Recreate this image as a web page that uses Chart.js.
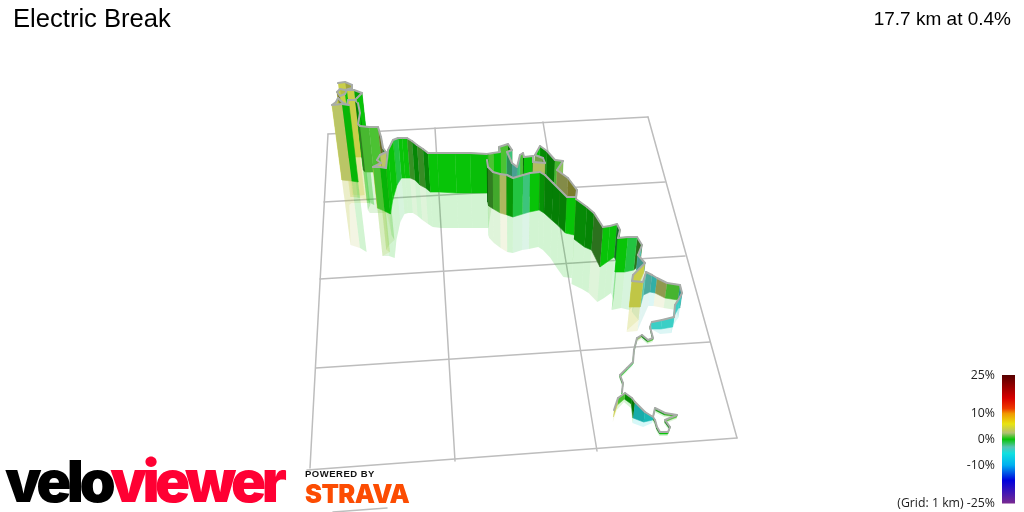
<!DOCTYPE html>
<html>
<head>
<meta charset="utf-8">
<title>Electric Break</title>
<script src="https://cdn.jsdelivr.net/npm/chart.js@4/dist/chart.umd.js"></script>
<style>
body{margin:0;background:#fff;width:1024px;height:512px;overflow:hidden;position:relative}
div{position:absolute;white-space:nowrap}
#routeChart{position:absolute;left:0;top:0}
#legendChart{position:absolute;left:824px;top:360px}
#name{left:13px;top:4px;font:25.6px "Liberation Sans",sans-serif;color:#000}
#stat{right:13px;top:8px;font:19px "Liberation Sans",sans-serif;color:#000}
#velo{left:5px;top:446px;font:900 58px Inter,sans-serif;letter-spacing:-4.5px;color:#000}
#velo span{color:#ff0033}
#powered{left:305px;top:468px;font:bold 9.5px "Liberation Sans",sans-serif;letter-spacing:.5px;color:#111}
#strava{left:305px;top:478px;font:900 25.5px Inter,sans-serif;letter-spacing:-.6px;color:#fc4c02}
</style>
</head>
<body>
<canvas id="routeChart" width="1024" height="512"></canvas>
<canvas id="legendChart" width="200" height="158"></canvas>
<div id="name">Electric Break</div>
<div id="stat">17.7 km at 0.4%</div>
<div id="velo">velo<span>viewer</span></div>
<div id="powered">POWERED BY</div>
<div id="strava">STRAVA</div>
<script>
// ==========================
// Grid on the floor
// ==========================

const gridStartX=[328,324,320,316,307,328,435,543,648,333];
const gridStartY=[134,202,279,368,470,134,128,122,117,512];
const gridEndX=[648,665,685,710,737,310,455,597,737,387];
const gridEndY=[117,182,256,342,438,468,461,451,438,508];

// ==========================
// Route, far towers first, null = gap
// ==========================

const routeX=[338,345,352,352,345,340,337,340,345,347,354,362,357,355,348,347,342,338,336,332,342,349,null,
355,358,360,358,360,369,378,381,383,386,380,377,381,373,380,386,388,393,398,402,407,412,417,423,428,437,455,470,487,
493,500,499,508,512,507,512,517,520,523,524,533,533,545,543,535,540,547,555,563,557,568,577,
576,567,560,553,545,540,530,523,513,507,500,493,488,487,null,
576,587,594,603,610,617,620,618,628,637,642,638,645,633,632,643,646,652,657,667,680,682,680,675,674,662,652,650,653,648,642,637,634,633,627,620,623,622,null,
614,618,625,632,635,645,653,655,665,677,665,670,668,660,657,655,653];
const routeTop=[83,82,85,88,90,89,92,96,94,90,90,93,98,100,100,105,102,98,102,105,104,105,null,
100,103,113,124,126,127,127,137,148,152,155,160,163,167,167,168,150,140,138,138,138,141,145,149,153,153,153,153,154,
153,152,147,144,150,152,163,167,155,153,157,156,162,163,158,155,146,151,160,161,170,178,190,
197,197,190,183,175,172,173,175,178,175,174,172,167,160,null,
199,207,213,227,226,224,230,238,237,237,245,255,263,275,281,282,272,275,278,283,285,293,297,305,317,320,322,327,338,340,335,338,350,362,368,375,383,392,null,
410,398,393,398,402,412,417,408,413,415,420,427,432,432,427,420,417];
const routeMid=[150,150,150,150,152,152,152,152,153,153,155,170,160,157,157,158,158,158,160,180,181,182,null,
157,158,165,170,172,172,172,190,198,200,202,204,206,208,211,214,200,185,178,178,178,180,185,188,192,192,193,193,193,
195,192,187,184,190,192,203,207,195,193,197,196,202,203,198,195,186,191,200,201,210,218,230,
235,233,226,220,213,210,212,214,217,215,213,209,206,202,null,
239,247,250,267,262,257,262,272,272,270,265,270,272,305,307,307,295,292,293,298,300,308,308,318,327,329,329,328,340,342,337,340,352,364,370,377,385,394,null,
417,405,399,404,418,422,420,410,415,417,422,429,434,434,429,422,419];
const routeFloor=[195,195,195,195,197,197,197,197,198,198,200,205,203,203,203,203,203,203,205,245,248,252,null,
203,203,205,210,213,213,213,225,235,240,245,250,252,256,256,258,240,222,214,213,213,216,220,224,227,228,228,228,228,
195,192,187,184,190,192,203,207,195,193,197,196,202,203,198,195,186,191,200,201,210,218,230,
278,277,268,258,250,247,249,250,253,252,248,243,238,235,null,
284,289,293,302,298,293,300,310,308,310,303,312,320,330,332,331,325,306,306,308,310,318,320,328,333,334,329,329,342,344,339,342,354,366,372,379,387,396,null,
422,410,402,408,423,427,423,412,417,419,424,431,436,436,431,424,421];
// grade of the stretch that starts at each point, in %
const routeGrade=[4,4,4,4,4,4,4,4,0,4,0,0,4,4,4,3,4,4,4,3,0,0,null,
0,0,0,1,1,1,4,2,0,3,1,4,4,1,0,0,0,-1,0,0,1,0,1,0,0,0,0,0,1,
0,0,1,0,-2,-2,-3,-2,1,0,0,2,3,3,2,0,0,0,1,2,3,4,1,
0,0,0,0,0,0,-2,-1,0,3,1,1,0,0,null,
0,0,1,0,0,-1,0,0,-1,1,-3,-3,4,4,4,-3,-3,-4,3,1,-4,-4,-4,-4,-4,-4,-2,0,1,0,2,0,0,-1,0,0,0,0,null,
4,1,0,0,-5,-5,0,0,1,1,0,1,0,0,0,0,0];

// grade colours
const gradeStops=[25,16,12,10,6,2.5,0,-3,-5.5,-10,-16,-25];
const gradeColors=["#560000","#d80000","#ee3a00","#f09800","#e8e410","#b2c074","#08c408","#58c4b4","#10e0e0","#00b0f0","#0000dc","#7a2a90"];

// colour bar labels
const gradeTicks=[25,10,0,-10,-25];
const gridNote="(Grid: 1 km) ";

// ==========================
// Helpers
// ==========================

function rgb(hex){
return [1,3,5].map(i=>parseInt(hex.substr(i,2),16));
}

function gradeColor(g,light,alpha){
let i=0;
while(i<gradeStops.length-2 && g<gradeStops[i+1]) i++;
const t=(gradeStops[i]-g)/(gradeStops[i]-gradeStops[i+1]);
const a=rgb(gradeColors[i]),b=rgb(gradeColors[i+1]);
const c=a.map((v,k)=>Math.round((v+(b[k]-v)*t)*light));
return `rgba(${c[0]},${c[1]},${c[2]},${alpha})`;
}

// walls lean towards the point all verticals run to
function lean(x,top,y){
return x+(510-x)*(y-top)/(1450-top);
}

// ==========================
// Datasets
// ==========================

const line=(data,color,width,order)=>({
data:data,showLine:true,fill:false,borderColor:color,borderWidth:width,pointRadius:0,order:order,borderCapStyle:"round",borderJoinStyle:"round"
});

const shape=(data,color,edge,order)=>({
data:data,showLine:true,fill:"shape",backgroundColor:color,borderColor:edge,borderWidth:edge==="transparent"?0:.6,pointRadius:0,order:order
});

const pieces=[];
for(let i=0;i<routeX.length-1;i++){
if(routeX[i]===null||routeX[i+1]===null) continue;
const dx=routeX[i+1]-routeX[i],dy=routeTop[i+1]-routeTop[i];
const len=Math.hypot(dx,dy)||1;
const slope=dx<0?-dy/len:dy/len;
pieces.push({i:i,key:(routeFloor[i]+routeFloor[i+1])/2,light:1-(routeGrade[i]<-1?.3:.5)*Math.max(0,slope)});
}
pieces.sort((a,b)=>a.key-b.key);

const paint=[];

gridStartX.forEach((x,i)=>{
paint.push(d=>line([{x:x,y:gridStartY[i]},{x:gridEndX[i],y:gridEndY[i]}],"#bdbdbd",1.5,d));
});

pieces.forEach(p=>{
const i=p.i,j=i+1,g=routeGrade[i];
paint.push(d=>shape([
{x:lean(routeX[i],routeTop[i],routeMid[i]),y:routeMid[i]},
{x:lean(routeX[j],routeTop[j],routeMid[j]),y:routeMid[j]},
{x:lean(routeX[j],routeTop[j],routeFloor[j]),y:routeFloor[j]},
{x:lean(routeX[i],routeTop[i],routeFloor[i]),y:routeFloor[i]}
],gradeColor(g,1,.18),"transparent",d));
});

pieces.forEach(p=>{
const i=p.i,j=i+1,g=routeGrade[i];
const c=gradeColor(g,p.light,1);
paint.push(d=>shape([
{x:routeX[i],y:routeTop[i]},
{x:routeX[j],y:routeTop[j]},
{x:lean(routeX[j],routeTop[j],routeMid[j]),y:routeMid[j]},
{x:lean(routeX[i],routeTop[i],routeMid[i]),y:routeMid[i]}
],c,c,d));
paint.push(d=>line([{x:routeX[i],y:routeTop[i]},{x:routeX[j],y:routeTop[j]}],"#a8aca8",2,d));
});

// lower order is drawn later
const datasets=paint.map((make,n)=>make(paint.length-n));

new Chart(document.getElementById("routeChart"),{
type:"scatter",
data:{datasets:datasets},
options:{
responsive:false,
animation:false,
layout:{padding:0},
plugins:{legend:{display:false},tooltip:{enabled:false}},
scales:{
x:{type:"linear",display:false,min:0,max:1024},
y:{type:"linear",display:false,min:0,max:512,reverse:true}
}
}
});

// ==========================
// Colour bar
// ==========================

new Chart(document.getElementById("legendChart"),{
type:"bar",
data:{
labels:["grade"],
datasets:[{
data:[[gradeTicks[4],gradeTicks[0]]],
barPercentage:1,
categoryPercentage:1,
backgroundColor:ctx=>{
const area=ctx.chart.chartArea;
if(!area) return "#08c408";
const fade=ctx.chart.ctx.createLinearGradient(0,area.top,0,area.bottom);
gradeStops.forEach((g,i)=>fade.addColorStop((25-g)/50,gradeColors[i]));
return fade;
}
}]
},
options:{
responsive:false,
animation:false,
layout:{padding:{top:15,bottom:3,right:9,left:0}},
plugins:{legend:{display:false},tooltip:{enabled:false}},
scales:{
x:{display:false},
y:{
min:-25,
max:25,
border:{display:false},
grid:{display:false,drawTicks:false},
afterBuildTicks:scale=>{scale.ticks=gradeTicks.map(v=>({value:v}));},
afterFit:scale=>{scale.width=178;},
ticks:{
padding:7,
color:"#222",
font:{family:"Open Sans",size:12.3},
callback:v=>(v===-25?gridNote:"")+v+"%"
}
}
}
}
});
</script>
</body>
</html>
